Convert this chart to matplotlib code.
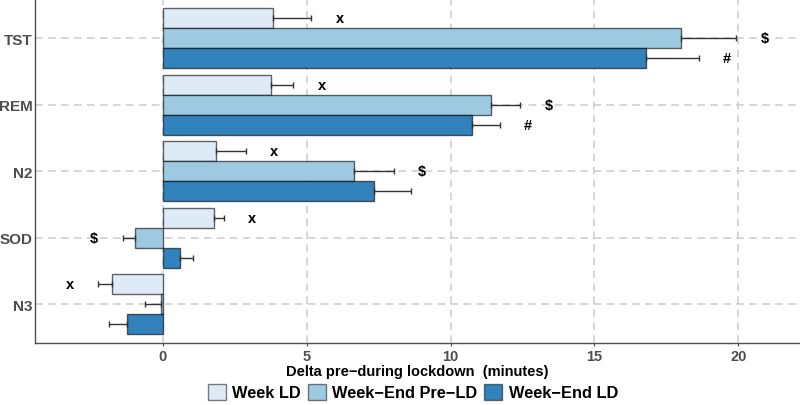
import matplotlib
matplotlib.use("Agg")
import matplotlib.pyplot as plt
from matplotlib.patches import Patch
import numpy as np

plt.rcParams['font.family'] = ['Liberation Sans', 'DejaVu Sans']
plt.rcParams['font.weight'] = 'bold'

categories = ["TST", "REM", "N2", "SOD", "N3"]
series = ["Week LD", "Week\u2212End Pre\u2212LD", "Week\u2212End LD"]
colors = ["#deebf7", "#9ecae1", "#3182bd"]

week_ld = [3.84, 3.75, 1.87, 1.79, -1.75]
weekend_pre_ld = [18.02, 11.42, 6.65, -0.94, -0.05]
weekend_ld = [16.80, 10.73, 7.34, 0.62, -1.23]

se_week_ld = [1.33, 0.79, 1.02, 0.34, 0.50]
se_weekend_pre_ld = [1.91, 1.01, 1.39, 0.45, 0.55]
se_weekend_ld = [1.82, 0.98, 1.29, 0.43, 0.63]

ann_week_ld = ["x", "x", "x", "x", "x"]
ann_weekend_pre_ld = ["$", "$", "$", "$", ""]
ann_weekend_ld = ["#", "#", "", "", ""]

values = [week_ld, weekend_pre_ld, weekend_ld]
ses = [se_week_ld, se_weekend_pre_ld, se_weekend_ld]
anns = [ann_week_ld, ann_weekend_pre_ld, ann_weekend_ld]

fig = plt.figure(figsize=(8.0, 4.06), dpi=100)
ax = fig.add_axes([0.04375, 1 - 344 / 406, 0.956, 344 / 406])

n = len(categories)
ypos = np.arange(n)[::-1].astype(float)
h = 0.3
offsets = [h, 0.0, -h]

ax.set_axisbelow(True)
ax.grid(True, linestyle=(0, (5, 3.5)), color="#cccccc", linewidth=1.1)

for k in range(3):
    v = np.array(values[k])
    s = np.array(ses[k])
    y = ypos + offsets[k]
    ax.barh(y, v, height=h, color=colors[k], edgecolor=(0, 0, 0, 0.6),
            linewidth=1.0, zorder=2)
    lo = np.where(v < 0, s, 0)
    hi = np.where(v >= 0, s, 0)
    ax.errorbar(v, y, xerr=[lo, hi], fmt='none', ecolor="#333333",
                elinewidth=1.0, capsize=2.5, capthick=1.0, zorder=3)
    for i in range(n):
        if anns[k][i]:
            d = 1 if v[i] >= 0 else -1
            xt = v[i] + d * (s[i] + 0.98)
            ax.text(xt, y[i], anns[k][i], ha='center', va='center',
                    fontsize=10.5, fontweight='bold', color='black', zorder=4)

ax.set_xlim(-4.43, 22.13)
ax.set_ylim(-0.586, 4.59)
ax.set_xticks([0, 5, 10, 15, 20])
ax.set_yticks(ypos)
ax.set_yticklabels(categories)
ax.tick_params(axis='both', colors="#4d4d4d", width=0.8)
ax.tick_params(axis='x', length=2.5, pad=1.5, labelsize=10.5)
ax.tick_params(axis='y', length=0, pad=1.5, labelsize=11)
for lab in ax.get_xticklabels() + ax.get_yticklabels():
    lab.set_fontweight('bold')
    lab.set_color("#4d4d4d")

for sp in ["top", "right"]:
    ax.spines[sp].set_visible(False)
for sp in ["left", "bottom"]:
    ax.spines[sp].set_color("#4d4d4d")
    ax.spines[sp].set_linewidth(1.0)

ax.set_xlabel("Delta pre\u2212during lockdown  (minutes)", fontsize=10.5,
              fontweight='bold', color='black', labelpad=1)

handles = [Patch(facecolor=colors[k], edgecolor=(0, 0, 0, 0.5), linewidth=1.0,
                 label=series[k]) for k in range(3)]
fig.legend(handles=handles, loc='center', bbox_to_anchor=(0.516, 0.032),
           ncol=3, frameon=False, handlelength=1.1,
           handleheight=1.1, handletextpad=0.4, columnspacing=0.4,
           prop={'weight': 'bold', 'size': 11.8})

fig.savefig("out.png", dpi=100)
